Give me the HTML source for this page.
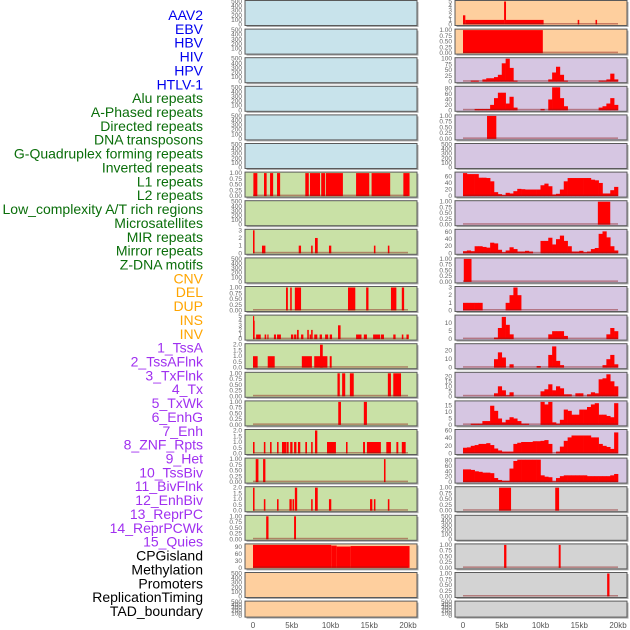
<!DOCTYPE html>
<html><head><meta charset="utf-8">
<style>
html,body{margin:0;padding:0;background:#fff;width:630px;height:630px;overflow:hidden}
svg{display:block}
text{font-family:"Liberation Sans",sans-serif}
</style></head>
<body>
<svg id="chart" width="630" height="630" viewBox="0 0 630 630"></svg>
<script>
// ---------- track labels ----------
const trackLabels = ["AAV2","EBV","HBV","HIV","HPV","HTLV-1","Alu repeats","A-Phased repeats","Directed repeats","DNA transposons","G-Quadruplex forming repeats","Inverted repeats","L1 repeats","L2 repeats","Low_complexity A/T rich regions","Microsatellites","MIR repeats","Mirror repeats","Z-DNA motifs","CNV","DEL","DUP","INS","INV","1_TssA","2_TssAFlnk","3_TxFlnk","4_Tx","5_TxWk","6_EnhG","7_Enh","8_ZNF_Rpts","9_Het","10_TssBiv","11_BivFlnk","12_EnhBiv","13_ReprPC","14_ReprPCWk","15_Quies","CPGisland","Methylation","Promoters","ReplicationTiming","TAD_boundary"];
const labelGroupSizes = [6,13,5,15,5];
const labelGroupColors = ["#0000ee","#0a6e0a","#ffa500","#a030f0","#000000"];
const xTickValues = [0,5,10,15,20];
const xTickLabels = ["0","5kb","10kb","15kb","20kb"];

// ---------- left column data: intervals [startKb, endKb, value] ----------
const L6_intervals = [[0.05,0.56,1],[1.42,1.76,1],[2.2,2.6,1],[3.1,3.5,1],[6.75,7.2,1],[7.35,8.65,1],[8.8,9.3,1],[9.4,11.6,1],[13.3,15.0,1],[15.3,17.7,1],[19.4,20.2,1]];
const L8_intervals = [[0,0.2,3],[1.16,1.6,1],[5.9,6.2,1],[7.5,7.7,1],[8.0,8.35,2],[9.8,10.1,1],[15.6,15.8,1],[17.4,17.6,1]];
const L10_intervals = [[4.26,4.5,1],[4.8,5.0,1],[5.4,6.2,1],[12.26,13.2,1],[14.6,14.9,1],[17.8,18.5,1],[19.2,19.5,1]];
const L11_intervals = [[0,0.06,5],[0.06,0.2,4],[0.4,1.0,1],[1.5,1.7,1],[1.85,2.0,1],[2.7,2.97,1],[3.1,3.6,1],[4.9,5.2,1],[5.3,5.6,1],[5.68,5.9,2],[6.2,6.5,1],[7.0,7.2,2],[7.3,7.5,1],[7.5,7.7,2],[7.9,8.3,1],[8.6,8.9,1],[9.3,9.7,1],[9.9,10.2,1],[10.97,11.3,3],[13.3,14.0,1],[14.3,14.7,1],[15.5,16.4,1],[16.5,16.9,1],[18.1,18.4,1],[19.2,19.4,1],[19.8,20.1,1]];
const L12_intervals = [[0,0.6,1],[1.9,2.8,1],[6.3,7.6,1],[7.9,9.6,1],[8.65,9.0,2],[9.9,10.15,1]];
const L13_intervals = [[10.9,11.2,1],[11.5,11.9,1],[12.5,13.0,1],[17.4,17.8,1],[18.1,19.1,1]];
const L14_intervals = [[11.0,11.35,1],[14.3,14.7,1]];
const L15_intervals = [[0,0.2,1],[1.4,1.6,1],[2.2,2.4,1],[3.1,3.3,1],[3.74,4.3,1],[4.35,4.6,1],[4.8,5.1,1],[5.3,5.6,1],[5.8,6.1,1],[6.75,6.97,1],[7.5,7.7,1],[8.0,8.3,2],[9.55,10.7,1],[12.0,12.2,1],[14.2,14.45,1],[14.7,16.5,1],[17.2,17.8,1],[18.5,18.75,1],[19.2,19.7,1]];
const L16_intervals = [[0.35,0.7,1],[1.3,1.6,1],[16.9,17.1,1]];
const L17_intervals = [[0,0.2,2],[1.4,1.6,1],[3.1,3.3,1],[4.7,5.0,1],[5.1,5.3,1],[5.4,5.7,2],[7.5,7.7,1],[8.0,8.35,2],[9.8,10.1,1],[15.1,15.4,1],[15.6,15.8,1],[17.4,17.6,1]];
const L18_intervals = [[1.7,2.0,1],[5.3,5.55,1]];
const L19_intervals = [[0,10.1,100],[10.1,10.8,97],[10.8,12.6,93],[12.6,20.2,95]];

// ---------- right column data ----------
const R0_intervals = [[0,0.3,2],[0.3,5.3,1],[5.3,5.55,5],[5.55,10.4,1],[14.8,15.0,1],[17.1,17.3,1]];
const R1_intervals = [[0,10.3,1]];
const R4_intervals = [[3.1,4.3,1]];
const R7_intervals = [[17.4,19.0,1]];
const R9_intervals = [[0.1,1.1,1]];
const R17_intervals = [[4.65,6.2,1],[11.9,12.4,1]];
const R19_intervals = [[5.3,5.6,1],[12.35,12.6,1]];
const R20_intervals = [[18.6,18.9,1]];
// profiles: 40 bins of 0.5 kb
const R2_bins = [0,0,5,5,0,10,15,15,20,30,80,100,60,5,0,0,0,0,0,0,0,0,10,40,65,30,5,0,0,0,0,0,0,0,0,5,5,10,35,10];
const R3_bins = [0,0,0,5,5,5,5,20,45,65,65,25,50,10,0,0,0,0,0,0,5,0,40,85,85,45,15,0,0,0,0,0,0,0,0,10,15,25,45,20];
const R6_bins = [70,67,67,67,56,56,55,45,12,6,3,10,8,15,22,21,20,20,20,20,33,38,30,5,7,20,45,55,55,55,55,55,55,50,48,40,8,8,18,28];
const R8_bins = [6,8,6,20,20,18,16,30,28,10,3,8,17,12,5,5,7,5,0,0,35,35,44,25,40,50,35,20,5,5,7,3,5,12,15,55,62,45,20,8];
const R10_bins = [1,1,1,1,1,0,0,0,0,0,0,1,2,3,2,0,0,0,0,0,0,0,0,0,0,0,0,0,0,0,0,0,0,0,0,0,0,0,0,0];
const R11_bins = [0,0,0,0,0,0,0,0,1,7,14,9,3,0,0,0,0,0,0,0,0,0,3,5,5,5,2,0,0,0,0,0,0,0,0,0,0,3,7,5];
const R12_bins = [0,0,0,0,0,0,0,0,10,18,12,0,4,0,0,0,0,0,0,2,0,0,15,25,8,3,0,0,0,0,0,0,0,0,0,0,3,10,15,4];
const R13_bins = [0,0,0,0,0,0,0,0,3,10,6,1,4,0,0,0,0,0,0,0,5,7,12,6,10,8,2,2,0,3,3,0,2,4,3,17,18,22,15,10];
const R14_bins = [0,0,1,1,1,3,3,15,11,5,2,4,6,5,3,1,1,0,0,0,18,16,18,2,1,4,12,11,8,8,12,12,14,16,17,8,8,7,6,17];
const R15_bins = [15,16,20,22,25,25,27,22,13,8,5,5,5,25,28,30,30,30,32,32,33,35,25,0,5,18,33,42,47,47,47,47,47,42,42,25,20,17,12,55];
const R16_bins = [47,47,45,40,38,35,35,33,15,8,5,5,50,78,83,83,83,83,83,83,25,20,18,3,15,22,25,25,25,25,25,25,22,22,22,22,22,22,25,30];

// ---------- scales ----------
const scaleEmpty = {max:500, ticks:[0,100,200,300,400,500], fmt:v=>String(v)};
const scaleUnit = {max:1, ticks:[0,0.25,0.5,0.75,1], fmt:v=>v.toFixed(2)};
const scaleTwo = {max:2, ticks:[0,0.5,1,1.5,2], fmt:v=>v.toFixed(1)};
const scaleThree = {max:3, ticks:[0,1,2,3], fmt:v=>String(v)};
const scaleFive = {max:5, ticks:[0,1,2,3,4,5], fmt:v=>String(v)};
const sc = (max,ticks)=>({max:max,ticks:ticks,fmt:v=>String(v)});

const C = {blue:"#c8e3eb", green:"#c9e1a6", orange:"#fecf9e", purple:"#d6c6e2", gray:"#d3d3d3"};

const leftPanels = [
 {bg:C.blue,s:scaleEmpty},{bg:C.blue,s:scaleEmpty},{bg:C.blue,s:scaleEmpty},{bg:C.blue,s:scaleEmpty},{bg:C.blue,s:scaleEmpty},{bg:C.blue,s:scaleEmpty},
 {bg:C.green,s:scaleUnit,iv:L6_intervals},{bg:C.green,s:scaleEmpty},{bg:C.green,s:scaleThree,iv:L8_intervals},{bg:C.green,s:scaleEmpty},
 {bg:C.green,s:scaleUnit,iv:L10_intervals},{bg:C.green,s:scaleFive,iv:L11_intervals},{bg:C.green,s:scaleTwo,iv:L12_intervals},
 {bg:C.green,s:scaleUnit,iv:L13_intervals},{bg:C.green,s:scaleUnit,iv:L14_intervals},{bg:C.green,s:scaleTwo,iv:L15_intervals},
 {bg:C.green,s:scaleUnit,iv:L16_intervals},{bg:C.green,s:scaleTwo,iv:L17_intervals},{bg:C.green,s:scaleUnit,iv:L18_intervals},
 {bg:C.orange,s:sc(100,[0,30,60,90]),iv:L19_intervals},{bg:C.orange,s:scaleEmpty},{bg:C.orange,s:scaleEmpty,short:true}
];
const rightPanels = [
 {bg:C.orange,s:scaleFive,iv:R0_intervals},{bg:C.orange,s:scaleUnit,iv:R1_intervals},
 {bg:C.purple,s:sc(100,[0,25,50,75,100]),pr:R2_bins},{bg:C.purple,s:sc(85,[0,20,40,60,80]),pr:R3_bins},
 {bg:C.purple,s:scaleUnit,iv:R4_intervals},{bg:C.purple,s:scaleEmpty},{bg:C.purple,s:sc(70,[0,20,40,60]),pr:R6_bins},
 {bg:C.purple,s:scaleUnit,iv:R7_intervals},{bg:C.purple,s:sc(65,[0,20,40,60]),pr:R8_bins},{bg:C.purple,s:scaleUnit,iv:R9_intervals},
 {bg:C.purple,s:scaleThree,pr:R10_bins},{bg:C.purple,s:sc(14.5,[0,5,10]),pr:R11_bins},{bg:C.purple,s:sc(27,[0,10,20]),pr:R12_bins},
 {bg:C.purple,s:sc(23,[0,5,10,15,20]),pr:R13_bins},{bg:C.purple,s:sc(18,[0,5,10,15]),pr:R14_bins},{bg:C.purple,s:sc(60,[0,20,40,60]),pr:R15_bins},
 {bg:C.purple,s:sc(85,[0,20,40,60,80]),pr:R16_bins},{bg:C.gray,s:scaleUnit,iv:R17_intervals},{bg:C.gray,s:scaleEmpty},
 {bg:C.gray,s:scaleUnit,iv:R19_intervals},{bg:C.gray,s:scaleUnit,iv:R20_intervals},{bg:C.gray,s:scaleEmpty,short:true}
];

const NS="http://www.w3.org/2000/svg";
const svg=document.getElementById('chart');
function mk(tag,attrs,parent){const e=document.createElementNS(NS,tag);for(const k in attrs)e.setAttribute(k,attrs[k]);(parent||svg).appendChild(e);return e;}

// labels
let li=0;
labelGroupSizes.forEach((n,g)=>{for(let k=0;k<n;k++){const t=mk('text',{x:203,y:20+li*13.86,'text-anchor':'end','font-size':'14',fill:labelGroupColors[g]});


t.textContent=trackLabels[li];li++;}});

const PANEL_STEP=28.6, PANEL_H=25;
function drawColumn(panels,px,name){
 const pw=172, x0=px+8, x1=px+163;
 const xs=kb=>x0+(kb/20)*(x1-x0);
 panels.forEach((p,i)=>{
  const top=0.5+i*PANEL_STEP, h=p.short?16:PANEL_H;
  const g=mk('g',{});
  
  
  mk('rect',{x:px+1.5,y:top+1.5,width:pw,height:h,fill:'#aaa'},g);
  mk('rect',{x:px,y:top,width:pw,height:h,fill:p.bg,stroke:'#5a5a5a','stroke-width':1},g);
  const yTop=top+1, yBot=top+h-1;
  const ys=v=>yBot-(v/p.s.max)*(yBot-yTop);
  p.s.ticks.forEach(v=>{const t=mk('text',{x:px-3,y:ys(v)+2,'text-anchor':'end','font-size':'6.5',fill:'#666'},g);
   
   
   t.textContent=p.s.fmt(v);});
  if(p.iv){p.iv.forEach(d=>{const r=mk('rect',{x:xs(d[0]),y:ys(d[2]),width:Math.max(1.2,xs(d[1])-xs(d[0])),height:yBot-ys(d[2]),fill:'#ff0000'},g);
   
   });}
  if(p.pr){p.pr.forEach((v,b)=>{if(v<=0)return;const r=mk('rect',{x:xs(b*0.5),y:ys(v),width:xs(b*0.5+0.5)-xs(b*0.5)+0.3,height:yBot-ys(v),fill:'#ff0000'},g);
   
   });}
  if(p.iv||p.pr){mk('rect',{x:xs(0),y:yBot-1.5,width:xs(20)-xs(0),height:1.5,fill:'rgba(140,20,20,0.45)'},g);}
 });
 xTickValues.forEach((v,k)=>{const t=mk('text',{x:xs(v),y:628,'text-anchor':'middle','font-size':'8',fill:'#555'});
  
  
  t.textContent=xTickLabels[k];});
}
drawColumn(leftPanels,245,'left');
drawColumn(rightPanels,455,'right');
</script>
</body></html>
